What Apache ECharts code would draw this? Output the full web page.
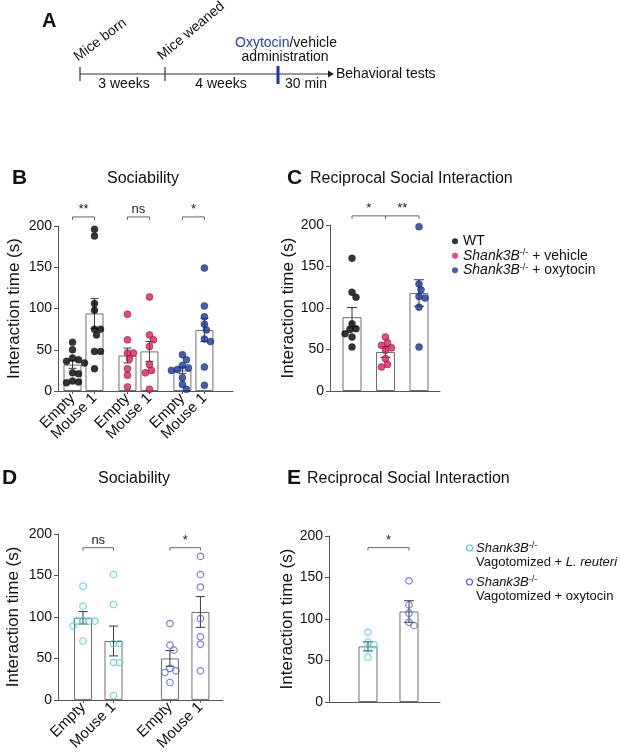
<!DOCTYPE html>
<html>
<head>
<meta charset="utf-8">
<script src="https://cdn.jsdelivr.net/npm/echarts@6/dist/echarts.min.js"></script>
<style>
  html, body { margin: 0; padding: 0; background: #fff; }
  #main { width: 620px; height: 753px; }
</style>
</head>
<body>
<div id="main"></div>
<script>
// ---- data ----
// B: sociability, WT / Shank3B vehicle / Shank3B oxytocin
var socLabels = ['Empty', 'Mouse 1', 'Empty', 'Mouse 1', 'Empty', 'Mouse 1'];
var socMeans = [32, 94, 43, 48, 25, 74];
var socSem = [4.5, 18, 9, 12, 4, 14];
var socPoints = [
  [59, 50, 40, 38, 36, 34, 22, 21, 12, 11, 10],
  [196, 188, 106, 98, 75, 75, 68, 48, 48, 27],
  [93, 62, 46, 46, 39, 27, 19, 5],
  [114, 68, 62, 54, 32, 25, 22, 2],
  [44, 38, 31, 28, 26, 25, 16, 8, 2],
  [149, 103, 90, 81, 74, 63, 60, 29, 7]
];
var socSig = [[0, 1, '**'], [2, 3, 'ns'], [4, 5, '*']];

// C: reciprocal social interaction
var rsiNames = ['WT', 'Shank3B-/- + vehicle', 'Shank3B-/- + oxytocin'];
var rsiMeans = [89, 47, 118];
var rsiSem = [11.5, 6.5, 16];
var rsiPoints = [
  [160, 119, 113, 81, 75, 74, 69, 65, 53],
  [65, 58, 55, 52, 49, 39, 32, 29],
  [198, 129, 122, 114, 112, 101, 53]
];
var rsiSig = [[0, 1, '*'], [1, 2, '**']];

// D: sociability, vagotomized mice
var vagLabels = ['Empty', 'Mouse 1', 'Empty', 'Mouse 1'];
var vagMeans = [99, 71, 50, 106];
var vagSem = [7.5, 18, 9.5, 18.5];
var vagPoints = [
  [137, 113, 95, 95, 95, 95, 89, 71],
  [151, 115, 68, 68, 45, 45, 5],
  [92, 66, 60, 38, 35, 33, 21],
  [173, 151, 136, 98, 76, 67, 35]
];
var vagSig = [[0, 1, 'ns'], [2, 3, '*']];

// E: reciprocal social interaction, vagotomized mice
var vrsiMeans = [67, 109];
var vrsiSem = [5.5, 13];
var vrsiPoints = [
  [84, 72, 69, 64, 54],
  [146, 117, 107, 96, 92]
];
var vrsiSig = [[0, 1, '*']];

var yTicks = [0, 50, 100, 150, 200];

// ---- styling ----
var FONT = '"Liberation Sans", Arial, Helvetica, sans-serif';
var GREY = '#555';
var BLACK = '#000000', PINK = '#e8175d', BLUE = '#1235a8', CYAN = '#4cc9d9', BLUE2 = '#4b5fd6';

var chart = echarts.init(document.getElementById('main'));

var grids = [
  { left: 58, top: 226, width: 175, height: 165 },
  { left: 330, top: 225, width: 110, height: 166 },
  { left: 58, top: 534, width: 165, height: 166 },
  { left: 329, top: 536, width: 111, height: 166 }
];

// bar centres in x-axis units (groups are spaced apart)
var posB = [0, 1, 2.5, 3.5, 5, 6];
var posC = [0, 1, 2];
var posD = [0, 1, 2.85, 3.85];
var posE = [0, 1];

// simple beeswarm: pixel x-offset for each point, circles may overlap a bit
function swarm(vals, pxPerUnit, d) {
  var placed = [];
  var offs = [];
  vals.forEach(function(v) {
    var y = v * pxPerUnit;
    for (var k = 0; k < 60; k++) {
      var dx = (k % 2 ? 1 : -1) * Math.ceil(k / 2);
      var ok = placed.every(function(p) {
        var ddx = p[0] - dx, ddy = p[1] - y;
        return ddx * ddx + ddy * ddy >= d * d;
      });
      if (ok) {
        placed.push([dx, y]);
        offs.push(dx);
        return;
      }
    }
    offs.push(0);
  });
  return offs;
}

function xAx(gi, min, max, pos, labels) {
  return {
    type: 'value', gridIndex: gi, min: min, max: max,
    axisLine: { show: true, onZero: false, lineStyle: { color: GREY, width: 1 } },
    axisTick: { show: !!labels, length: 3, customValues: pos, lineStyle: { color: GREY } },
    axisLabel: labels ? {
      show: true, rotate: 45, fontSize: 15, color: '#111', margin: 5, fontFamily: FONT,
      customValues: pos,
      formatter: function(v) {
        var best = 0;
        pos.forEach(function(p, i) { if (Math.abs(p - v) < Math.abs(pos[best] - v)) best = i; });
        return labels[best];
      }
    } : { show: false },
    splitLine: { show: false }
  };
}

function yAx(gi, gap) {
  return {
    type: 'value', gridIndex: gi, min: 0, max: 200, interval: 50,
    name: 'Interaction time (s)', nameLocation: 'middle', nameGap: gap, nameRotate: 90,
    nameTextStyle: { fontSize: 17, color: '#111', fontFamily: FONT },
    axisLine: { show: true, onZero: false, lineStyle: { color: GREY, width: 1 } },
    axisTick: { show: true, length: 4, customValues: yTicks, lineStyle: { color: GREY } },
    axisLabel: { fontSize: 14, color: '#111', margin: 6, fontFamily: FONT },
    splitLine: { show: false }
  };
}

var series = [];

function addPanel(gi, pos, means, sems, points, colors, filled, barW, capW, sig, names) {
  var pxPerUnit = grids[gi].height / 200;
  series.push({
    type: 'bar', xAxisIndex: gi, yAxisIndex: gi, barWidth: barW, z: 1,
    data: pos.map(function(p, i) { return [p, means[i]]; }),
    itemStyle: { color: '#fff', borderColor: '#707070', borderWidth: 1 },
    silent: true
  });
  series.push({
    type: 'custom', xAxisIndex: gi, yAxisIndex: gi, z: 2,
    encode: { x: 0, y: 1 },
    data: pos.map(function(p, i) { return [p, means[i], sems[i]]; }),
    renderItem: function(params, api) {
      var x = api.value(0), m = api.value(1), s = api.value(2);
      var hi = api.coord([x, m + s]), lo = api.coord([x, m - s]);
      var st = { stroke: '#3a3a3a', lineWidth: 1, fill: null };
      return {
        type: 'group', children: [
          { type: 'line', shape: { x1: hi[0], y1: hi[1], x2: lo[0], y2: lo[1] }, style: st },
          { type: 'line', shape: { x1: hi[0] - capW / 2, y1: hi[1], x2: hi[0] + capW / 2, y2: hi[1] }, style: st },
          { type: 'line', shape: { x1: lo[0] - capW / 2, y1: lo[1], x2: lo[0] + capW / 2, y2: lo[1] }, style: st }
        ]
      };
    }
  });
  points.forEach(function(vals, g) {
    var offs = swarm(vals, pxPerUnit, 6);
    series.push({
      name: names ? names[g] : 'p' + gi + '_' + g,
      type: 'scatter', xAxisIndex: gi, yAxisIndex: gi, z: 3,
      symbol: 'circle', symbolSize: filled ? 7 : 6.5,
      itemStyle: filled
        ? { color: colors[g], borderColor: '#222', borderWidth: 0.5 }
        : { color: 'rgba(255,255,255,0)', borderColor: colors[g], borderWidth: 1.2 },
      data: vals.map(function(v, i) {
        return { value: [pos[g], v], symbolOffset: [offs[i], 0] };
      })
    });
  });
  series.push({
    type: 'custom', xAxisIndex: gi, yAxisIndex: gi, z: 4, clip: false,
    encode: { x: [0, 1], y: 2 },
    data: sig.map(function(s) { return [pos[s[0]], pos[s[1]], sigY[gi]]; }),
    renderItem: function(params, api) {
      var a = api.coord([api.value(0), api.value(2)]);
      var b = api.coord([api.value(1), api.value(2)]);
      var st = { stroke: '#666', lineWidth: 1, fill: null };
      return {
        type: 'group', children: [
          { type: 'polyline', shape: { points: [[a[0], a[1] + 3], [a[0], a[1]], [b[0], b[1]], [b[0], b[1] + 3]] }, style: st },
          { type: 'text', x: (a[0] + b[0]) / 2, y: a[1] - 1,
            style: { text: sig[params.dataIndex][2], fontSize: 13, fontFamily: FONT, fill: '#222', align: 'center', verticalAlign: 'bottom' } }
        ]
      };
    }
  });
}

// bracket heights (y units) per panel
var sigY = [211, 211, 183.5, 186];

addPanel(0, posB, socMeans, socSem, socPoints,
  [BLACK, BLACK, PINK, PINK, BLUE, BLUE], true, 18, 8, socSig, null);
addPanel(1, posC, rsiMeans, rsiSem, rsiPoints, [BLACK, PINK, BLUE], true, 19, 10, rsiSig, rsiNames);
addPanel(2, posD, vagMeans, vagSem, vagPoints, [CYAN, CYAN, BLUE2, BLUE2], false, 18, 9, vagSig, null);
addPanel(3, posE, vrsiMeans, vrsiSem, vrsiPoints, [CYAN, BLUE2], false, 19, 10, vrsiSig, null);

function txt(x, y, s, opt) {
  var st = { text: s, fontSize: 14, fontFamily: FONT, fill: '#111', align: 'left', verticalAlign: 'middle' };
  for (var k in opt) st[k] = opt[k];
  return { type: 'text', x: x, y: y, style: st };
}

var supRich = {
  i: { fontStyle: 'italic', fontSize: 14, fontFamily: FONT, fill: '#111' },
  s: { fontSize: 9, fontFamily: FONT, fill: '#111', verticalAlign: 'top' }
};
var keyRich = {
  i: { fontStyle: 'italic', fontSize: 13, fontFamily: FONT, fill: '#111' },
  s: { fontSize: 9, fontFamily: FONT, fill: '#111', verticalAlign: 'top' }
};

var graphic = [
  // panel A timeline
  txt(42, 21, 'A', { fontSize: 20, fontWeight: 'bold' }),
  { type: 'line', shape: { x1: 80, y1: 74, x2: 329, y2: 74 }, style: { stroke: '#333', lineWidth: 1.2 } },
  { type: 'polygon', shape: { points: [[328, 70.5], [334, 74], [328, 77.5]] }, style: { fill: '#222' } },
  { type: 'line', shape: { x1: 80, y1: 67, x2: 80, y2: 81 }, style: { stroke: '#333', lineWidth: 1.2 } },
  { type: 'line', shape: { x1: 165, y1: 67, x2: 165, y2: 81 }, style: { stroke: '#333', lineWidth: 1.2 } },
  { type: 'line', shape: { x1: 278, y1: 66, x2: 278, y2: 84 }, style: { stroke: '#1a35b5', lineWidth: 3 } },
  txt(124, 84, '3 weeks', { align: 'center' }),
  txt(221, 84, '4 weeks', { align: 'center' }),
  txt(306, 84, '30 min', { align: 'center' }),
  txt(336, 74, 'Behavioral tests'),
  txt(235, 43.5, '{b|Oxytocin}/vehicle', { rich: { b: { fill: '#1f3fc4', fontSize: 14, fontFamily: FONT } } }),
  txt(285, 57.5, 'administration', { align: 'center' }),
  { type: 'text', x: 80, y: 64, rotation: 37 * Math.PI / 180,
    style: { text: 'Mice born', fontSize: 14, fontFamily: FONT, fill: '#111', align: 'left', verticalAlign: 'bottom' } },
  { type: 'text', x: 164, y: 63, rotation: 40 * Math.PI / 180,
    style: { text: 'Mice weaned', fontSize: 14, fontFamily: FONT, fill: '#111', align: 'left', verticalAlign: 'bottom' } },
  // panel letters and titles
  txt(12, 178, 'B', { fontSize: 21, fontWeight: 'bold' }),
  txt(143, 179, 'Sociability', { fontSize: 16, align: 'center' }),
  txt(287, 178, 'C', { fontSize: 21, fontWeight: 'bold' }),
  txt(310, 179, 'Reciprocal Social Interaction', { fontSize: 16 }),
  txt(2, 478, 'D', { fontSize: 21, fontWeight: 'bold' }),
  txt(134, 479, 'Sociability', { fontSize: 16, align: 'center' }),
  txt(287, 478, 'E', { fontSize: 21, fontWeight: 'bold' }),
  txt(307, 479, 'Reciprocal Social Interaction', { fontSize: 16 }),
  // panel E key
  { type: 'circle', shape: { cx: 469.5, cy: 548, r: 3 }, style: { fill: 'none', stroke: CYAN, lineWidth: 1.2 } },
  txt(476, 548, '{i|Shank3B}{s|-/-}', { fontSize: 13, rich: keyRich }),
  txt(476, 562, 'Vagotomized + {i|L. reuteri}', { fontSize: 13, rich: keyRich }),
  { type: 'circle', shape: { cx: 469.5, cy: 582, r: 3 }, style: { fill: 'none', stroke: BLUE2, lineWidth: 1.2 } },
  txt(476, 582, '{i|Shank3B}{s|-/-}', { fontSize: 13, rich: keyRich }),
  txt(476, 596, 'Vagotomized + oxytocin', { fontSize: 13, rich: keyRich })
];

var option = {
  animation: false,
  textStyle: { fontFamily: FONT },
  grid: grids,
  xAxis: [
    xAx(0, -0.66, 7.3, posB, socLabels),
    xAx(1, -0.657, 2.627, posC, null),
    xAx(2, -0.82, 4.59, posD, vagLabels),
    xAx(3, -0.95, 1.756, posE, null)
  ],
  yAxis: [yAx(0, 35), yAx(1, 31), yAx(2, 36), yAx(3, 31)],
  legend: {
    data: rsiNames, orient: 'vertical', left: 447, top: 229,
    icon: 'circle', itemWidth: 6, itemHeight: 6, itemGap: 0,
    selectedMode: false,
    itemStyle: { borderWidth: 0 },
    formatter: function(n) {
      if (n === 'WT') return 'WT';
      return '{i|Shank3B}{s|-/-} + ' + n.split('+ ')[1];
    },
    textStyle: { fontSize: 14, color: '#111', fontFamily: FONT, lineHeight: 14.5, rich: supRich }
  },
  graphic: graphic,
  series: series
};

chart.setOption(option);
</script>
</body>
</html>
